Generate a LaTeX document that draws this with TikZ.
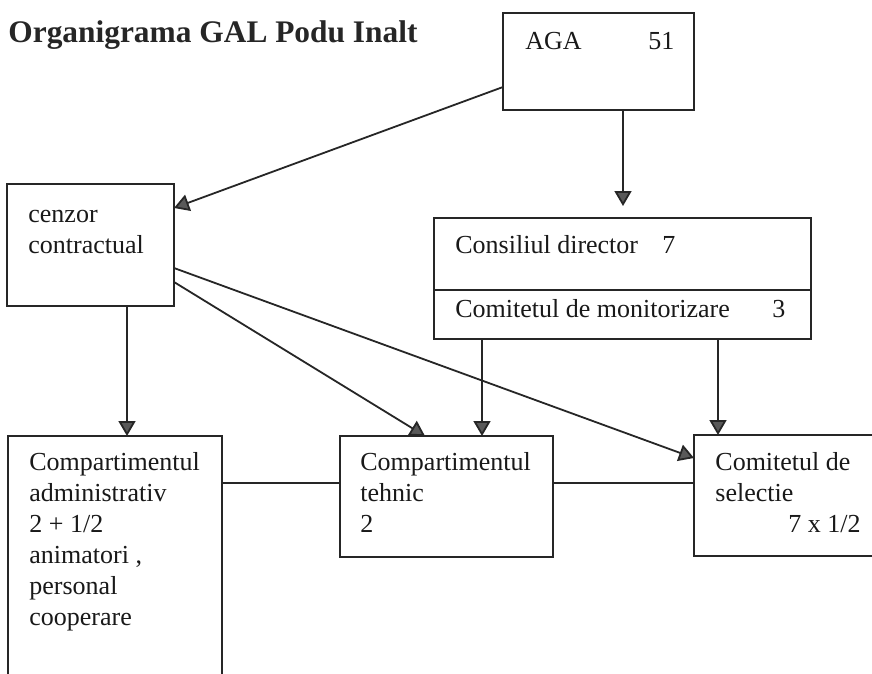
\documentclass[tikz,border=0pt]{standalone}
\usepackage{fontspec}
\setmainfont{Liberation Serif}
\usepackage{tikz}
\usetikzlibrary{positioning, calc, arrows.meta}

\tikzset{
  box/.style={draw=black!85, line width=0.9pt, inner sep=0pt, outer sep=0pt, anchor=north west},
  lbl/.style={anchor=north west, inner sep=0pt, align=left, text=black!90,
    font=\fontsize{13}{15.5}\selectfont},
  conn/.style={draw=black!85, line width=0.9pt},
}

\begin{document}
\begin{tikzpicture}[x=0.5pt, y=-0.5pt, >={Triangle[length=7.5pt, width=8.5pt, fill=black!65]}]
        \clip (0,0) rectangle (872,674);
        \fill[white] (0,0) rectangle (872,674);

        \node[anchor=base west, inner sep=0pt, text=black!85, font=\bfseries\fontsize{15.7}{19}\selectfont] (title) at (8,43) {Organigrama GAL Podu Inalt};

        % boxes
        \node[box, minimum width=95.5pt, minimum height=48.5pt] (aga) at (503,13) {};
        \node[box, minimum width=83.5pt, minimum height=61pt] (cenzor) at (7,184) {};
        \node[box, minimum width=188.5pt, minimum height=60.5pt] (cons) at (434,218) {};
        \node[box, minimum width=107pt, minimum height=130pt] (admin) at (8,436) {};
        \node[box, minimum width=106.5pt, minimum height=60.5pt] (tehnic) at (340,436) {};
        \node[box, minimum width=100pt, minimum height=60.5pt] (selectie) at (694,435) {};

        % texts
        \node[lbl, below right=7.15pt and 11pt of aga.north west] (agat) {\strut AGA};
        \node[lbl, below right=7.15pt and 72.5pt of aga.north west] (aganum) {\strut 51};
        \node[lbl, below right=8.15pt and 10.5pt of cenzor.north west] (czt) {\strut cenzor\\contractual};
        \node[lbl, below right=6.65pt and 10.5pt of cons.north west] (const) {\strut Consiliul director};
        \node[lbl, below right=6.65pt and 114pt of cons.north west] (consnum) {\strut 7};
        \node[lbl, below right=38.65pt and 10.5pt of cons.north west] (mont) {\strut Comitetul de monitorizare};
        \node[lbl, below right=38.65pt and 169pt of cons.north west] (monnum) {\strut 3};
        \node[lbl, below right=6.15pt and 10.5pt of admin.north west] (admt) {\strut Compartimentul\\administrativ\\2 + 1/2\\animatori ,\\personal\\cooperare};
        \node[lbl, below right=6.15pt and 10pt of tehnic.north west] (teht) {\strut Compartimentul\\tehnic\\2};
        \node[lbl, below right=6.65pt and 10.5pt of selectie.north west] (selt) {\strut Comitetul de\\selectie\\\hspace*{36.5pt}7 x 1/2};

        % divider
        \draw[conn] ($(cons.north west)+(0,72)$) -- ($(cons.north east)+(0,72)$);

        % connectors
        \coordinate (agaout) at ($(aga.south)+(24.5,0)$);
        \coordinate (czout) at ($(cenzor.south)+(36.5,0)$);
        \coordinate (consa) at ($(cons.south west)+(48,0)$);
        \coordinate (consb) at ($(cons.south west)+(284,0)$);
        \coordinate (hline) at ($(tehnic.north west)+(0,47)$);

        \draw[conn, ->] ($(aga.south west)+(0,-23)$) -- ($(cenzor.north east)+(0,24)$);
        \draw[conn, ->, shorten >=6pt] (agaout) -- (agaout |- cons.north);
        \draw[conn, ->] (czout) -- (czout |- admin.north);
        \draw[conn, ->] ($(cenzor.east)+(0,37)$) -- ($(tehnic.north west)+(85,0)$);
        \draw[conn, ->] ($(cenzor.east)+(0,23)$) -- ($(selectie.north west)+(0,23)$);
        \draw[conn, ->] (consa) -- (consa |- tehnic.north);
        \draw[conn, ->] (consb) -- (consb |- selectie.north);

        \draw[conn] (hline -| admin.east) -- (hline);
        \draw[conn] (hline -| tehnic.east) -- (hline -| selectie.west);

    \end{tikzpicture}
\end{document}
